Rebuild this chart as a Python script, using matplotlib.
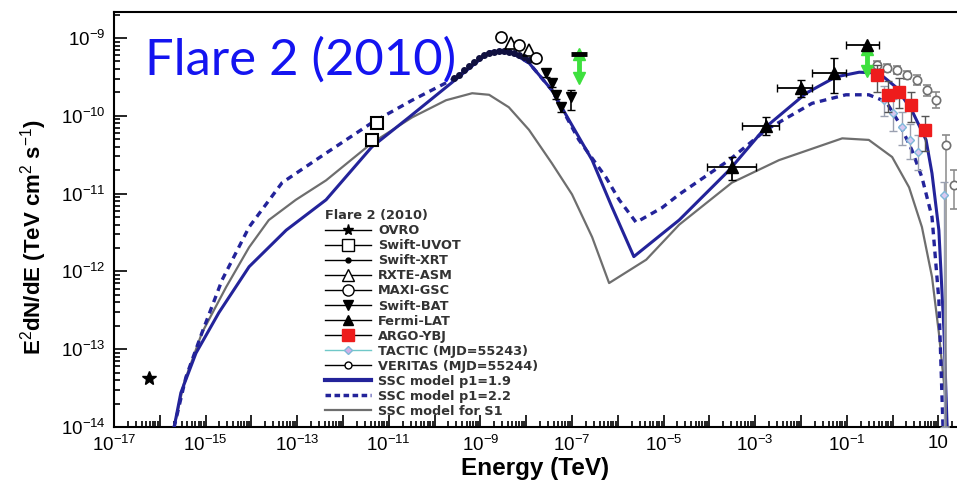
import numpy as np
import matplotlib
matplotlib.use('Agg')
import matplotlib.pyplot as plt
from matplotlib.lines import Line2D
from matplotlib.ticker import LogLocator, NullFormatter

plt.rcParams['font.family'] = ['Liberation Sans', 'DejaVu Sans']
plt.rcParams['mathtext.fontset'] = 'custom'
plt.rcParams['mathtext.rm'] = 'Liberation Sans'
plt.rcParams['mathtext.it'] = 'Liberation Sans:italic'
plt.rcParams['mathtext.bf'] = 'Liberation Sans:bold'

# ---------------- data (log10 of energy [TeV] and E^2 dN/dE) ----------------
ssc19_logE = [-15.69, -15.54, -15.21, -14.71, -14.05, -13.24, -12.37, -11.37, -10.56, -9.47,
              -8.81, -8.31, -7.94, -7.44, -7.07, -6.56, -6.13, -5.65, -4.66, -3.57,
              -2.76, -1.89, -1.24, -0.73, -0.30, 0.07, 0.42, 0.73, 0.86, 1.01, 1.12, 1.19]
ssc19_logF = [-14.01, -13.56, -13.05, -12.53, -11.94, -11.47, -11.08, -10.40, -10.02, -9.50,
              -9.18, -9.19, -9.32, -9.67, -10.05, -10.57, -11.17, -11.81, -11.34, -10.70,
              -10.14, -9.71, -9.50, -9.44, -9.45, -9.63, -9.93, -10.31, -10.74, -11.47, -12.75, -14.0]

ssc22_logE = [-15.69, -15.43, -15.08, -14.64, -14.05, -13.33, -12.37, -11.37, -10.49, -9.53,
              -8.81, -8.31, -7.94, -7.44, -6.85, -6.26, -5.97, -5.60, -5.03, -4.66,
              -3.57, -2.76, -1.76, -1.02, -0.52, -0.14, 0.14, 0.42, 0.64, 0.86, 1.01, 1.10]
ssc22_logF = [-14.01, -13.36, -12.79, -12.11, -11.43, -10.86, -10.48, -10.09, -9.80, -9.51,
              -9.18, -9.19, -9.32, -9.67, -10.31, -10.79, -11.08, -11.37, -11.18, -11.01,
              -10.57, -10.18, -9.84, -9.73, -9.73, -9.82, -10.09, -10.44, -10.79, -11.30, -12.37, -14.0]

s1_logE = [-15.69, -15.47, -15.08, -14.55, -14.05, -13.62, -13.03, -12.37, -11.37, -10.49,
           -9.75, -9.18, -8.81, -8.38, -7.94, -7.44, -7.00, -6.56, -6.19, -5.38,
           -4.66, -3.51, -2.48, -1.10, -0.52, -0.01, 0.36, 0.64, 0.86, 1.01, 1.12, 1.19]
s1_logF = [-14.01, -13.43, -12.79, -12.20, -11.69, -11.34, -11.08, -10.83, -10.35, -10.02,
           -9.80, -9.71, -9.73, -9.89, -10.18, -10.61, -11.01, -11.56, -12.15, -11.85,
           -11.40, -10.86, -10.57, -10.29, -10.31, -10.53, -10.92, -11.43, -12.07, -12.79, -13.43, -13.97]

ovro_logE = [-16.24]
ovro_logF = [-13.37]

uvot_logE = [-11.26, -11.37]
uvot_logF = [-10.09, -10.31]

xrt_logE = [-9.58, -9.47, -9.36, -9.25, -9.14, -9.03, -8.92, -8.81, -8.70, -8.59,
            -8.48, -8.38, -8.27, -8.16, -8.05, -7.94]
xrt_logF = [-9.51, -9.48, -9.41, -9.36, -9.31, -9.26, -9.22, -9.19, -9.18, -9.17,
            -9.17, -9.18, -9.19, -9.22, -9.24, -9.28]

rxte_logE = [-8.33, -7.94]
rxte_logF = [-9.06, -9.16]

maxi_logE = [-8.55, -8.16, -7.79]
maxi_logF = [-8.99, -9.09, -9.26]

bat_logE = [-7.57, -7.44, -7.35, -7.24, -7.02]
bat_logF = [-9.45, -9.58, -9.73, -9.89, -9.76]
bat_logF_lo = [-9.50, -9.63, -9.78, -9.95, -9.93]
bat_logF_hi = [-9.40, -9.53, -9.68, -9.83, -9.67]

fermi_logE = [-3.51, -2.76, -2.00, -1.28, -0.56]
fermi_logE_lo = [-4.05, -3.29, -2.52, -1.76, -1.02]
fermi_logE_hi = [-2.98, -2.48, -1.76, -1.02, -0.30]
fermi_logF = [-10.66, -10.13, -9.64, -9.45, -9.09]
fermi_logF_lo = [-10.83, -10.25, -9.76, -9.71, -9.09]
fermi_logF_hi = [-10.53, -10.02, -9.54, -9.26, -9.09]

argo_logE = [-0.34, -0.10, 0.14, 0.40, 0.71]
argo_logF = [-9.48, -9.73, -9.69, -9.86, -10.18]
argo_logF_lo = [-9.70, -9.95, -9.90, -10.08, -10.45]
argo_logF_hi = [-9.35, -9.55, -9.52, -9.70, -10.00]

tactic_logE = [-0.19, 0.01, 0.21, 0.38, 0.55, 1.12]
tactic_logF = [-9.80, -9.96, -10.14, -10.31, -10.47, -11.02]
tactic_logF_lo = [-10.00, -10.20, -10.38, -10.55, -10.70, -14.0]
tactic_logF_hi = [-9.62, -9.78, -9.95, -10.10, -10.25, -10.85]

veritas_logE = [-0.34, -0.12, 0.10, 0.31, 0.53, 0.75, 0.95, 1.17, 1.34]
veritas_logF = [-9.35, -9.39, -9.41, -9.48, -9.54, -9.67, -9.80, -10.38, -10.89]
veritas_logF_lo = [-9.40, -9.44, -9.46, -9.53, -9.60, -9.75, -9.90, -14.0, -11.20]
veritas_logF_hi = [-9.30, -9.34, -9.36, -9.43, -9.48, -9.60, -9.70, -10.25, -10.70]

# variability arrows (green)
arrow_logE = [-6.85, -0.56]
arrow_logF_top = [-9.20, -9.14]
arrow_logF_bot = [-9.52, -9.42]

x_tick_exps = list(range(-17, 2))
x_tick_text = {-17: '10$^{-17}$', -15: '10$^{-15}$', -13: '10$^{-13}$', -11: '10$^{-11}$',
               -9: '10$^{-9}$', -7: '10$^{-7}$', -5: '10$^{-5}$', -3: '10$^{-3}$',
               -1: '10$^{-1}$', 1: '10'}
y_tick_exps = [-14, -13, -12, -11, -10, -9]
y_tick_text = ['10$^{-14}$', '10$^{-13}$', '10$^{-12}$', '10$^{-11}$', '10$^{-10}$', '10$^{-9}$']

legend_title = 'Flare 2 (2010)'
legend_labels = ['OVRO', 'Swift-UVOT', 'Swift-XRT', 'RXTE-ASM', 'MAXI-GSC', 'Swift-BAT',
                 'Fermi-LAT', 'ARGO-YBJ', 'TACTIC (MJD=55243)', 'VERITAS (MJD=55244)',
                 'SSC model p1=1.9', 'SSC model p1=2.2', 'SSC model for S1']

# ---------------- plotting ----------------
def p(a):
    return 10.0 ** np.asarray(a, dtype=float)

def yerr(v, lo, hi):
    v, lo, hi = p(v), p(lo), p(hi)
    return [v - lo, hi - v]

navy = '#23239a'
grey = '#6e6e6e'
green = '#3ee03e'

fig = plt.figure(figsize=(9.57, 4.83), dpi=100)
ax = fig.add_axes([114 / 957, 56 / 483, 843 / 957, 415 / 483])
ax.set_xscale('log')
ax.set_yscale('log')
ax.set_xlim(1e-17, 10 ** 1.406)
ax.set_ylim(1e-14, 10 ** -8.666)

ax.plot(p(s1_logE), p(s1_logF), color=grey, lw=1.6, zorder=2)
ax.plot(p(ssc22_logE), p(ssc22_logF), color=navy, lw=2.4, ls=(0, (2.0, 1.6)), zorder=3)
ax.plot(p(ssc19_logE), p(ssc19_logF), color=navy, lw=2.2, zorder=3)

ax.plot(p(ovro_logE), p(ovro_logF), ls='none', marker='*', color='black', ms=10, zorder=5)
ax.plot(p(uvot_logE), p(uvot_logF), ls='none', marker='s', mfc='white', mec='black',
        mew=1.5, ms=9, zorder=5)
ax.plot(p(xrt_logE), p(xrt_logF), ls='none', marker='o', color='#101040', ms=4, zorder=5)
ax.plot(p(rxte_logE), p(rxte_logF), ls='none', marker='^', mfc='none', mec='black',
        mew=1.2, ms=8, zorder=5)
ax.plot(p(maxi_logE), p(maxi_logF), ls='none', marker='o', mfc='white', mec='black',
        mew=1.2, ms=8, zorder=5)
ax.errorbar(p(bat_logE), p(bat_logF), yerr=yerr(bat_logF, bat_logF_lo, bat_logF_hi),
            ls='none', marker='v', color='black', ms=7, capsize=3, elinewidth=1.2, zorder=5)

for e, top, bot in zip(arrow_logE, arrow_logF_top, arrow_logF_bot):
    ax.plot(p([e, e]), p([top, bot]), color=green, lw=3.5, solid_capstyle='butt', zorder=6)
    ax.plot(p([e]), p([top]), ls='none', marker='^', color=green, ms=9, zorder=6)
    ax.plot(p([e]), p([bot]), ls='none', marker='v', color=green, ms=9, zorder=6)
ax.plot(p(arrow_logE[:1]), p(arrow_logF_top[:1]), ls='none', marker='_', color='black',
        ms=11, mew=3.5, zorder=7)

ax.errorbar(p(fermi_logE), p(fermi_logF),
            xerr=[p(fermi_logE) - p(fermi_logE_lo), p(fermi_logE_hi) - p(fermi_logE)],
            yerr=yerr(fermi_logF, fermi_logF_lo, fermi_logF_hi),
            ls='none', marker='^', color='black', ms=8, capsize=3, elinewidth=1.3, zorder=7)
ax.errorbar(p(veritas_logE), p(veritas_logF),
            yerr=yerr(veritas_logF, veritas_logF_lo, veritas_logF_hi),
            ls='none', marker='o', mfc='white', mec='#707070', ecolor='#8a8a8a',
            ms=6, mew=1.2, capsize=3, elinewidth=1.1, zorder=4)
ax.errorbar(p(tactic_logE), p(tactic_logF),
            yerr=yerr(tactic_logF, tactic_logF_lo, tactic_logF_hi),
            ls='none', marker='D', mfc='#d8c8f0', mec='#7fb8d8', ecolor='#9aa0b0',
            ms=4.5, mew=1.0, capsize=3, elinewidth=1.0, zorder=4)
ax.errorbar(p(argo_logE), p(argo_logF), yerr=yerr(argo_logF, argo_logF_lo, argo_logF_hi),
            ls='none', marker='s', color='#ee1c1c', ecolor='#555555', ms=8, capsize=3,
            elinewidth=1.0, zorder=6)

# axes styling
ax.set_xticks([10.0 ** d for d in x_tick_exps], [x_tick_text.get(d, '') for d in x_tick_exps])
ax.set_yticks([10.0 ** d for d in y_tick_exps], y_tick_text)
ax.xaxis.set_minor_locator(LogLocator(base=10, subs=range(2, 10), numticks=200))
ax.yaxis.set_minor_locator(LogLocator(base=10, subs=range(2, 10), numticks=200))
ax.xaxis.set_minor_formatter(NullFormatter())
ax.yaxis.set_minor_formatter(NullFormatter())
ax.tick_params(which='both', direction='in', top=False, right=False, width=1.2, colors='black')
ax.tick_params(which='major', length=9, labelsize=13.5, pad=6)
ax.tick_params(which='minor', length=4.5)
for s in ['left', 'bottom', 'top']:
    ax.spines[s].set_linewidth(1.5)
ax.spines['right'].set_visible(False)

ax.set_xlabel('Energy (TeV)', fontsize=17.5, fontweight='bold', labelpad=1)
ax.set_ylabel('E$^{2}$dN/dE (TeV cm$^{2}$ s$^{-1}$)', fontsize=16, fontweight='bold')
ax.yaxis.set_label_coords(-0.077, 0.458)

ax.text(0.037, 0.85, 'Flare 2 (2010)', transform=ax.transAxes,
        fontsize=36.5, color='#1414f0', family=['Lato', 'DejaVu Sans'], va='baseline', zorder=8)

handles = [
    Line2D([], [], color='black', marker='*', ms=8, lw=1),
    Line2D([], [], color='black', marker='s', mfc='white', ms=8, lw=1),
    Line2D([], [], color='black', marker='o', ms=3.5, lw=1),
    Line2D([], [], color='black', marker='^', mfc='white', ms=8, lw=1),
    Line2D([], [], color='black', marker='o', mfc='white', ms=8, lw=1),
    Line2D([], [], color='black', marker='v', ms=7, lw=1),
    Line2D([], [], color='black', marker='^', ms=7, lw=1),
    Line2D([], [], color='black', marker='s', mfc='#ee1c1c', mec='#ee1c1c', ms=8, lw=1),
    Line2D([], [], color='#70c8c8', marker='D', mfc='#d0b0e8', mec='#7fb8d8', ms=4.5, lw=1),
    Line2D([], [], color='black', marker='o', mfc='white', ms=5, lw=1),
    Line2D([], [], color=navy, lw=3),
    Line2D([], [], color=navy, lw=2.5, ls=(0, (1.6, 1.0))),
    Line2D([], [], color=grey, lw=1.6),
]
leg = ax.legend(handles, legend_labels, title=legend_title, loc='upper left',
                bbox_to_anchor=(0.25, 0.525), frameon=False,
                prop={'family': 'DejaVu Sans', 'weight': 'bold', 'size': 9.3},
                handlelength=3.6, handletextpad=0.55,
                labelspacing=0.16, borderpad=0, borderaxespad=0)
leg._legend_box.align = 'left'
for t in leg.get_texts():
    t.set_color('#333333')
leg.get_title().set_fontproperties({'family': 'DejaVu Sans', 'weight': 'bold', 'size': 9.3})
leg.get_title().set_color('#333333')

fig.savefig('out.png', dpi=100)
